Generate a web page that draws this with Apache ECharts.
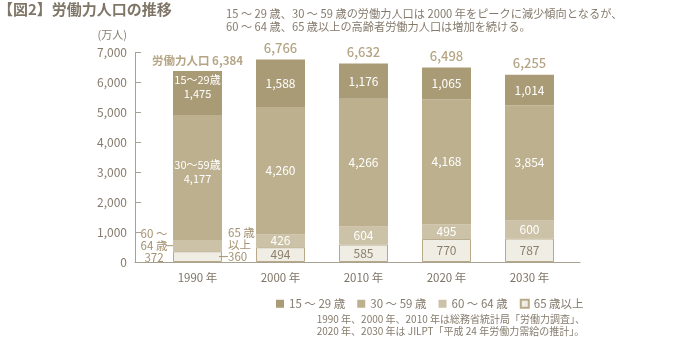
<!DOCTYPE html>
<html><head><meta charset="utf-8">
<script src="https://cdn.jsdelivr.net/npm/echarts@6/dist/echarts.min.js"></script>
<style>html,body{margin:0;padding:0;background:#fff}#c{width:680px;height:337px}</style>
</head><body><div id="c"></div>
<script>
const years = ['1990 年', '2000 年', '2010 年', '2020 年', '2030 年'];
const age15_29 = [1475, 1588, 1176, 1065, 1014];
const age30_59 = [4177, 4260, 4266, 4168, 3854];
const age60_64 = [372, 426, 604, 495, 600];
const age65 = [360, 494, 585, 770, 787];
const totals = [6384, 6766, 6632, 6498, 6255];
const seriesNames = ['15 ～ 29 歳', '30 ～ 59 歳', '60 ～ 64 歳', '65 歳以上'];
const yMin = 0, yMax = 7000, yStep = 1000;

const C1 = '#aa9b77', C2 = '#bdb08f', C3 = '#ccc2a7', C4 = '#f0ede5';
const TXT = '#857b6d', TAN = '#a39270';
const FONT = '"Noto Sans CJK JP", "Liberation Sans", sans-serif';
const fmt = v => v.toLocaleString('en-US');

const chart = echarts.init(document.getElementById('c'), null, {renderer: 'canvas'});

const barBase = {type: 'bar', stack: 'all', barWidth: 49, xAxisIndex: 0, yAxisIndex: 0};

const s65 = age65.map((v, i) => i === 0 ? {
  value: v,
  label: {
    position: 'right', distance: 0, offset: [-3, -12],
    formatter: '{s|}{a|65 歳}\n{s|}{a|以上}\n{l|}{a|' + fmt(v) + '}',
    rich: {
      a: {color: TAN, fontSize: 11.5, lineHeight: 12, fontFamily: FONT, align: 'left'},
      s: {width: 9, height: 1},
      l: {width: 9, height: 1, backgroundColor: TAN, verticalAlign: 'middle'}
    }
  }
} : v);

const s6064 = age60_64.map((v, i) => i === 0 ? {
  value: v,
  label: {
    position: 'left', distance: 0, offset: [0, 0],
    formatter: '{a|60 ～}{s|}\n{a|64 歳}{l|}\n{a|' + fmt(v) + '}{s|}',
    rich: {
      a: {color: TAN, fontSize: 11.5, lineHeight: 12, fontFamily: FONT, width: 24, align: 'center'},
      s: {width: 7, height: 1},
      l: {width: 7, height: 1, backgroundColor: TAN, verticalAlign: 'middle'}
    }
  }
} : v);

const s3059 = age30_59.map((v, i) => i === 0 ? {
  value: v,
  label: {formatter: '30～59歳\n' + fmt(v), lineHeight: 14, fontSize: 11, offset: [0, -6]}
} : v);

const s1529 = age15_29.map((v, i) => i === 0 ? {
  value: v,
  label: {formatter: '15～29歳\n' + fmt(v), lineHeight: 14, fontSize: 11, offset: [0, -6]}
} : v);

const option = {
  animation: false,
  textStyle: {fontFamily: FONT},
  title: [
    {text: '【図2】労働力人口の推移', left: -2, top: 2, padding: 0,
     textStyle: {fontSize: 15, fontWeight: 'bold', color: '#7f7668', fontFamily: FONT}},
    {text: '15 ～ 29 歳、30 ～ 59 歳の労働力人口は 2000 年をピークに減少傾向となるが、\n60 ～ 64 歳、65 歳以上の高齢者労働力人口は増加を続ける。',
     left: 226, top: 7, padding: 0,
     textStyle: {fontSize: 11.2, fontWeight: 'normal', color: TXT, lineHeight: 13, fontFamily: FONT}}
  ],
  graphic: [
    {type: 'text', right: 95, top: 313, silent: true,
     style: {text: '1990 年、2000 年、2010 年は総務省統計局「労働力調査」、\n2020 年、2030 年は JILPT「平成 24 年労働力需給の推計」。',
       fill: TXT, font: '10px ' + FONT, lineHeight: 12, align: 'right'}}
  ],
  legend: {
    data: seriesNames,
    left: 276, top: 298, padding: 0,
    itemWidth: 8, itemHeight: 8, itemGap: 12,
    icon: 'rect',
    textStyle: {fontSize: 11.5, color: TXT, fontFamily: FONT},
    selectedMode: false
  },
  grid: [
    {left: 156, right: 109, top: 52.5, bottom: 75},
    {left: 135, right: 100, top: 52.5, bottom: 75}
  ],
  xAxis: [
    {type: 'category', data: years, gridIndex: 0,
     axisLine: {show: false}, axisTick: {show: false},
     axisLabel: {color: '#7d7466', fontSize: 11.5, margin: 10, fontFamily: FONT}},
    {type: 'value', gridIndex: 1, min: 0, max: 1,
     axisLine: {show: true, lineStyle: {color: '#a8a090', width: 1}},
     axisTick: {show: false}, axisLabel: {show: false}, splitLine: {show: false}}
  ],
  yAxis: [
    {type: 'value', gridIndex: 0, min: yMin, max: yMax, interval: yStep, show: false, splitLine: {show: false}},
    {type: 'value', gridIndex: 1, min: yMin, max: yMax, interval: yStep,
     name: '(万人)', nameLocation: 'end', nameGap: 12,
     nameTextStyle: {color: TXT, fontSize: 11, align: 'right', padding: [0, 8, 0, 0], fontFamily: FONT},
     axisLine: {show: true, lineStyle: {color: '#a8a090', width: 1}},
     axisTick: {show: true, inside: true, length: 6, lineStyle: {color: '#a8a090'}},
     axisLabel: {color: TXT, fontSize: 12, margin: 8, formatter: v => fmt(v), fontFamily: FONT},
     splitLine: {show: false}}
  ],
  series: [
    Object.assign({}, barBase, {name: seriesNames[3], data: s65,
      itemStyle: {color: C4, borderColor: '#b8aa88', borderWidth: 1},
      label: {show: true, position: 'inside', color: '#8b7f6b', fontSize: 12, fontFamily: FONT,
        formatter: p => fmt(p.value)}}),
    Object.assign({}, barBase, {name: seriesNames[2], data: s6064,
      itemStyle: {color: C3},
      label: {show: true, position: 'inside', color: '#ffffff', fontSize: 12, fontFamily: FONT,
        formatter: p => fmt(p.value)}}),
    Object.assign({}, barBase, {name: seriesNames[1], data: s3059,
      itemStyle: {color: C2},
      label: {show: true, position: 'inside', color: '#ffffff', fontSize: 12, fontFamily: FONT,
        formatter: p => fmt(p.value)}}),
    Object.assign({}, barBase, {name: seriesNames[0], data: s1529,
      itemStyle: {color: C1},
      label: {show: true, position: 'inside', color: '#ffffff', fontSize: 12, fontFamily: FONT,
        formatter: p => fmt(p.value)}}),
    {type: 'scatter', name: 'total', xAxisIndex: 0, yAxisIndex: 0, data: totals,
     symbolSize: 0, z: 5, silent: true,
     label: {show: true, position: 'top', distance: 5, color: '#a28f66', fontSize: 13, fontWeight: 500, fontFamily: FONT,
       formatter: p => p.dataIndex === 0 ? '{f|労働力人口 ' + fmt(p.value) + '}' : fmt(p.value),
       rich: {f: {fontSize: 11.5, fontWeight: 'bold', color: '#a28f66', fontFamily: FONT}}}}
  ]
};
chart.setOption(option);
</script></body></html>
